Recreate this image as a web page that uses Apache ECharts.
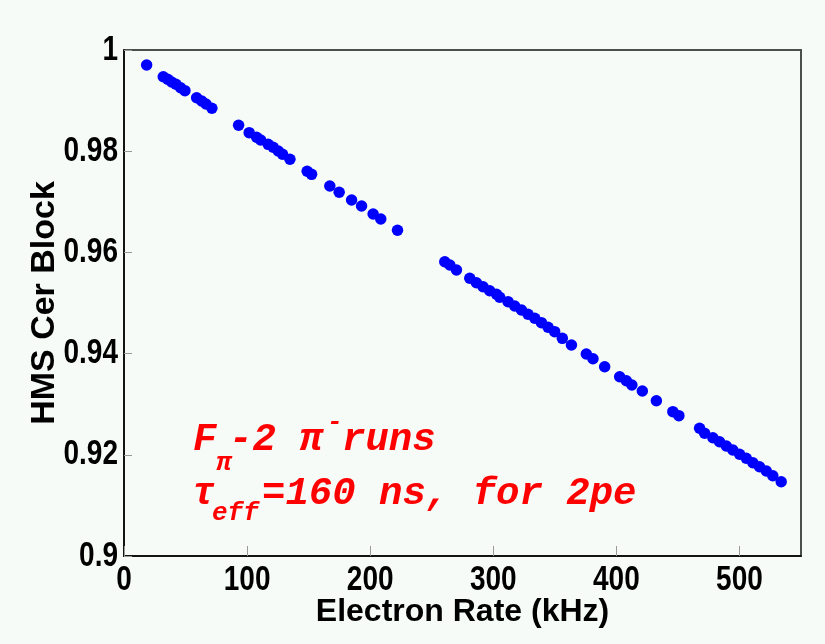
<!DOCTYPE html>
<html>
<head>
<meta charset="utf-8">
<script src="https://cdn.jsdelivr.net/npm/echarts@6/dist/echarts.min.js"></script>
<style>
  html, body { margin: 0; padding: 0; background: #f6fbf8; }
  #chart { width: 825px; height: 644px; }
</style>
</head>
<body>
<div id="chart"></div>
<script>
// Electron rate (kHz) for each run
var rate = [
  18.4, 31.9, 35.5, 38.7, 42.2, 46.0, 49.5, 59.0, 63.1, 66.6,
  71.4, 93.1, 101.7, 107.7, 111.0, 117.1, 121.2, 125.3, 128.8, 134.8,
  148.8, 152.4, 167.2, 174.8, 184.9, 193.0, 202.4, 208.6, 222.2,
  260.6, 264.7, 270.1, 280.9, 286.3, 291.7, 297.1, 302.6, 305.2, 312.0,
  317.4, 322.9, 328.2, 333.7, 339.1, 344.5, 349.9, 356.1, 363.5, 375.6,
  381.0, 390.5, 402.7, 408.1, 412.6, 421.1, 432.5, 445.9, 450.8, 467.6,
  471.7, 478.4, 483.8, 489.3, 494.6, 500.1, 505.5, 510.9, 516.3, 521.8,
  527.1, 533.9
];
// HMS Cherenkov block efficiency for each run
var efficiency = [
  0.99704, 0.99472, 0.99421, 0.99368, 0.99322, 0.99255, 0.99196, 0.99057, 0.98992, 0.98933,
  0.98848, 0.98512, 0.98366, 0.98275, 0.98221, 0.98136, 0.98077, 0.98004, 0.97939, 0.97840,
  0.97603, 0.97543, 0.97312, 0.97188, 0.97036, 0.96917, 0.96759, 0.96660, 0.96437,
  0.95816, 0.95751, 0.95652, 0.95488, 0.95401, 0.95322, 0.95243, 0.95172, 0.95113, 0.95026,
  0.94941, 0.94862, 0.94777, 0.94698, 0.94611, 0.94520, 0.94433, 0.94302, 0.94170, 0.93992,
  0.93899, 0.93741, 0.93543, 0.93464, 0.93379, 0.93261, 0.93069, 0.92852, 0.92773, 0.92524,
  0.92425, 0.92338, 0.92259, 0.92174, 0.92095, 0.92010, 0.91931, 0.91844, 0.91765, 0.91680,
  0.91587, 0.91468
];
var xTicks = [0, 100, 200, 300, 400, 500];
var yTicks = [0.9, 0.92, 0.94, 0.96, 0.98, 1];
var xTickLabels = ['0', '100', '200', '300', '400', '500'];
var yTickLabels = ['0.9', '0.92', '0.94', '0.96', '0.98', '1'];

var points = rate.map(function (r, i) { return [r, efficiency[i]]; });

var sansFont = "'Liberation Sans', Arial, sans-serif";
var monoFont = "'Liberation Mono', 'Courier New', monospace";
var red = '#ff0000';
var X_MIN = 0, X_MAX = 550, Y_MIN = 0.9, Y_MAX = 1;

function note(text, x, y, size) {
  return {
    type: 'text', left: x, top: y,
    style: { text: text, fill: red, font: 'italic bold ' + size + 'px ' + monoFont }
  };
}

var chart = echarts.init(document.getElementById('chart'), null, { renderer: 'canvas' });
chart.setOption({
  backgroundColor: '#f6fbf8',
  animation: false,
  grid: {
    left: 124, right: 24, top: 50, bottom: 88,
    show: true, borderColor: '#4a4f4c', borderWidth: 2,
    backgroundColor: 'transparent'
  },
  xAxis: {
    type: 'value', min: X_MIN, max: X_MAX,
    name: 'Electron Rate (kHz)', nameLocation: 'middle', nameGap: 40,
    nameTextStyle: { fontFamily: sansFont, fontWeight: 'bold', fontSize: 32, color: '#000' },
    axisLine: { lineStyle: { color: '#000', width: 1.5 } },
    axisTick: { inside: true, length: 10, customValues: xTicks, lineStyle: { color: '#999', width: 1 } },
    axisLabel: { show: false },
    splitLine: { show: false }
  },
  yAxis: {
    type: 'value', min: Y_MIN, max: Y_MAX, interval: 0.02,
    name: 'HMS Cer Block', nameLocation: 'middle', nameGap: 62,
    nameTextStyle: { fontFamily: sansFont, fontWeight: 'bold', fontSize: 34, color: '#000' },
    axisLine: { lineStyle: { color: '#000', width: 1.5 } },
    axisTick: { inside: true, length: 8, customValues: yTicks, lineStyle: { color: '#999', width: 1 } },
    axisLabel: { show: false },
    splitLine: { show: false }
  },
  series: [{
    type: 'scatter',
    data: points,
    symbol: 'circle',
    symbolSize: 11.5,
    itemStyle: { color: '#0000ff', opacity: 1 }
  }]
});

// Narrow bold tick labels, placed at the axis scale positions
var labelFont = 'bold 35px ' + sansFont;
var tickText = [];
xTicks.forEach(function (v, i) {
  var p = chart.convertToPixel({ gridIndex: 0 }, [v, Y_MIN]);
  tickText.push({
    type: 'text', x: p[0], y: p[1] + 7, scaleX: 0.8,
    style: { text: xTickLabels[i], fill: '#000', font: labelFont, align: 'center', verticalAlign: 'top' }
  });
});
yTicks.forEach(function (v, i) {
  var p = chart.convertToPixel({ gridIndex: 0 }, [X_MIN, v]);
  tickText.push({
    type: 'text', x: p[0] - 6, y: p[1], scaleX: 0.8,
    style: { text: yTickLabels[i], fill: '#000', font: labelFont, align: 'right', verticalAlign: 'middle' }
  });
});

// Run-set annotation
var notes = [
  note('F', 193, 421, 39),
  note('\u03c0', 216, 450, 26),
  note('-2 \u03c0', 229, 421, 39),
  note('-', 327, 409, 26),
  note('runs', 342, 421, 39),
  note('\u03c4', 192, 475, 39),
  note('eff', 212, 500, 26),
  note('=160 ns, for 2pe', 262, 475, 39)
];

chart.setOption({ graphic: tickText.concat(notes) });
</script>
</body>
</html>
